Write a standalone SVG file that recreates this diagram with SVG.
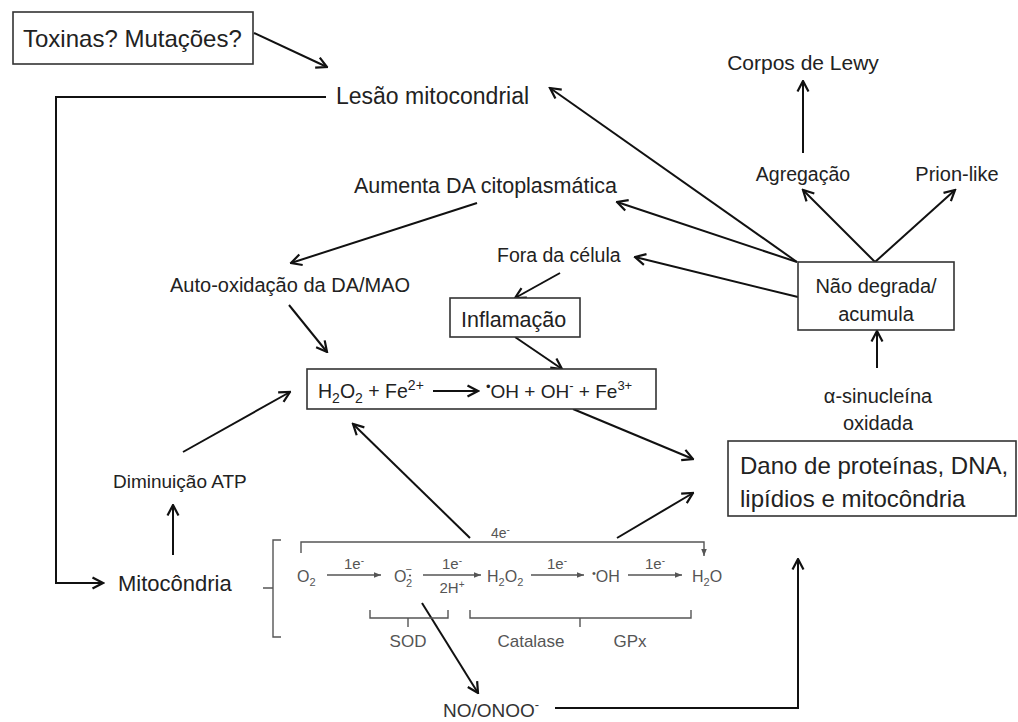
<svg xmlns="http://www.w3.org/2000/svg" width="1018" height="722" viewBox="0 0 1018 722">
<defs>
<style>
.t{font-family:"Liberation Sans",Arial,sans-serif;fill:#222;}
.f{font-family:"Liberation Sans",Arial,sans-serif;fill:#555;}
.box{fill:#fff;stroke:#333;stroke-width:1.6;}
.c{fill:none;stroke:#111;stroke-width:2;marker-end:url(#ah);}
.cn{fill:none;stroke:#111;stroke-width:2;}
.s{fill:none;stroke:#555;stroke-width:1.3;marker-end:url(#sa);}
.sn{fill:none;stroke:#555;stroke-width:1.4;}
</style>
<marker id="ah" viewBox="0 0 14 14" markerWidth="14" markerHeight="14" refX="12.5" refY="7" orient="auto" markerUnits="userSpaceOnUse">
<path d="M2,1.5 L12.5,7 L2,12.5" fill="none" stroke="#111" stroke-width="2.2"/>
</marker>
<marker id="sa" viewBox="0 0 8 8" markerWidth="7" markerHeight="7" refX="8" refY="4" orient="auto" markerUnits="userSpaceOnUse">
<path d="M0,0.8 L8,4 L0,7.2 z" fill="#555"/>
</marker>
</defs>
<rect width="1018" height="722" fill="#fff"/>

<g id="connectors">
<line class="c" x1="254" y1="33" x2="327" y2="67"/>
<polyline class="c" points="326,97 56,97 56,583 103,583"/>
<line class="c" x1="797" y1="262" x2="550" y2="88"/>
<line class="c" x1="797" y1="262" x2="617" y2="202"/>
<line class="c" x1="798" y1="297" x2="635" y2="257"/>
<line class="c" x1="803" y1="153" x2="803" y2="81"/>
<line class="c" x1="875" y1="262" x2="803" y2="190"/>
<line class="c" x1="875" y1="262" x2="955" y2="190"/>
<line class="c" x1="877" y1="368" x2="877" y2="331"/>
<line class="c" x1="477" y1="203" x2="291" y2="263"/>
<line class="c" x1="289" y1="305" x2="327" y2="352"/>
<line class="c" x1="560" y1="273" x2="515" y2="298"/>
<line class="c" x1="515" y1="337" x2="562" y2="369"/>
<line class="c" x1="573" y1="409" x2="693" y2="459"/>
<line class="c" x1="183" y1="452" x2="290" y2="392"/>
<line class="c" x1="173" y1="555" x2="173" y2="505"/>
<line class="c" x1="470" y1="538" x2="353" y2="424"/>
<line class="c" x1="617" y1="538" x2="693" y2="493"/>
<line class="c" x1="422" y1="603" x2="478" y2="693"/>
<polyline class="c" points="555,708 798,708 798,559"/>
</g>

<g id="toxinas">
<rect class="box" x="13" y="12" width="240" height="52"/>
<text class="t" x="23" y="47" font-size="24">Toxinas? Mutações?</text>
</g>
<g id="lesao">
<text class="t" x="336" y="104" font-size="23">Lesão mitocondrial</text>
</g>
<g id="corpos">
<text class="t" x="803" y="70" font-size="21" text-anchor="middle">Corpos de Lewy</text>
</g>
<g id="agregacao">
<text class="t" x="803" y="181" font-size="19.5" text-anchor="middle">Agregação</text>
</g>
<g id="prion">
<text class="t" x="957" y="181" font-size="20" text-anchor="middle">Prion-like</text>
</g>
<g id="aumenta">
<text class="t" x="354" y="193" font-size="21.5">Aumenta DA citoplasmática</text>
</g>
<g id="fora">
<text class="t" x="497" y="262" font-size="19.5">Fora da célula</text>
</g>
<g id="naodegrada">
<rect class="box" x="798" y="262" width="156" height="68"/>
<text class="t" x="876" y="293" font-size="20" text-anchor="middle">Não degrada/</text>
<text class="t" x="876" y="321" font-size="20" text-anchor="middle">acumula</text>
</g>
<g id="autoox">
<text class="t" x="170" y="292" font-size="20">Auto-oxidação da DA/MAO</text>
</g>
<g id="inflamacao">
<rect class="box" x="450" y="298" width="130" height="39"/>
<text class="t" x="461" y="327" font-size="21.5">Inflamação</text>
</g>
<g id="fenton">
<rect class="box" x="307" y="369" width="349" height="40"/>
<text class="t" x="318" y="398" font-size="19.5">H<tspan font-size="14" dy="5">2</tspan><tspan dy="-5">O</tspan><tspan font-size="14" dy="5">2</tspan><tspan dy="-5"> + Fe</tspan><tspan font-size="14" dy="-8">2+</tspan></text>
<line class="cn" x1="433" y1="391" x2="478" y2="391" style="marker-end:url(#ah)"/>
<text class="t" x="486" y="398" font-size="19"><tspan font-size="13" dy="-7">•</tspan><tspan dy="7">OH + OH</tspan><tspan font-size="13" dy="-8">-</tspan><tspan dy="8"> + Fe</tspan><tspan font-size="13" dy="-8">3+</tspan></text>
</g>
<g id="sinucleina">
<text class="t" x="878" y="403" font-size="20" text-anchor="middle">α-sinucleína</text>
<text class="t" x="878" y="430" font-size="20" text-anchor="middle">oxidada</text>
</g>
<g id="dano">
<rect class="box" x="728" y="441" width="288" height="75"/>
<text class="t" x="740" y="474" font-size="24">Dano de proteínas, DNA,</text>
<text class="t" x="740" y="507" font-size="24">lipídios e mitocôndria</text>
</g>
<g id="diminuicao">
<text class="t" x="113" y="488" font-size="19">Diminuição ATP</text>
</g>
<g id="mitocondria">
<text class="t" x="118" y="591" font-size="22">Mitocôndria</text>
</g>

<g id="cadeia">
<path class="sn" d="M281,540 L273,540 L273,637 L281,637 M263,588 L273,588"/>
<polyline class="sn" points="301,553 301,542 704,542 704,556" style="marker-end:url(#sa)"/>
<text class="f" x="491" y="538" font-size="14">4e<tspan font-size="10" dy="-5">-</tspan></text>
<text class="f" x="297" y="582" font-size="16">O<tspan font-size="11" dy="4">2</tspan></text>
<line class="s" x1="327" y1="575" x2="381" y2="575"/>
<text class="f" x="354" y="569" font-size="15" text-anchor="middle">1e<tspan font-size="10" dy="-5">-</tspan></text>
<text class="f" x="394" y="582" font-size="16">O</text>
<text class="f" x="406" y="587" font-size="11">2</text>
<text class="f" x="405.5" y="573" font-size="11">−</text>
<circle cx="410" cy="575.5" r="1.1" fill="#555"/>
<line class="s" x1="423" y1="575" x2="481" y2="575"/>
<text class="f" x="452" y="569" font-size="15" text-anchor="middle">1e<tspan font-size="10" dy="-5">-</tspan></text>
<text class="f" x="452" y="593" font-size="15" text-anchor="middle">2H<tspan font-size="10" dy="-5">+</tspan></text>
<text class="f" x="487" y="582" font-size="16">H<tspan font-size="11" dy="4">2</tspan><tspan dy="-4">O</tspan><tspan font-size="11" dy="4">2</tspan></text>
<line class="s" x1="531" y1="575" x2="584" y2="575"/>
<text class="f" x="557" y="569" font-size="15" text-anchor="middle">1e<tspan font-size="10" dy="-5">-</tspan></text>
<text class="f" x="592" y="582" font-size="16"><tspan font-size="11" dy="-5">•</tspan><tspan dy="5">OH</tspan></text>
<line class="s" x1="628" y1="575" x2="682" y2="575"/>
<text class="f" x="655" y="569" font-size="15" text-anchor="middle">1e<tspan font-size="10" dy="-5">-</tspan></text>
<text class="f" x="692" y="582" font-size="16">H<tspan font-size="11" dy="4">2</tspan><tspan dy="-4">O</tspan></text>
<path class="sn" d="M370,610 L370,618 L448,618 L448,610 M408,618 L408,627"/>
<path class="sn" d="M470,610 L470,618 L691,618 L691,610 M580,618 L580,627"/>
<text class="f" x="408" y="647" font-size="17" text-anchor="middle">SOD</text>
<text class="f" x="531" y="647" font-size="17" text-anchor="middle">Catalase</text>
<text class="f" x="630" y="647" font-size="17" text-anchor="middle">GPx</text>
</g>
<g id="noonoo">
<text class="t" x="443" y="717" font-size="19" style="fill:#333">NO/ONOO<tspan font-size="13" dy="-8">-</tspan></text>
</g>
</svg>
